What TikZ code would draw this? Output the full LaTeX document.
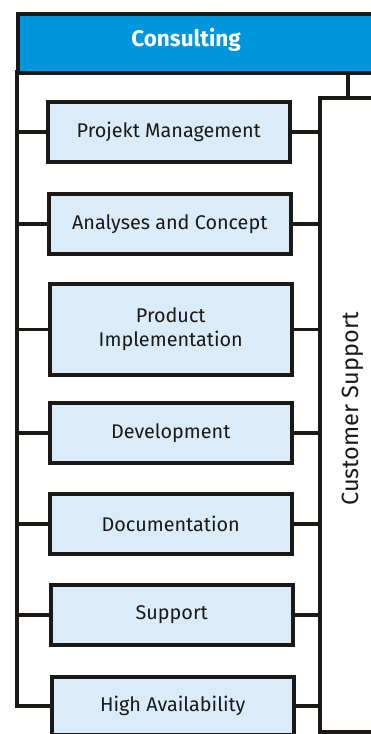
\documentclass[tikz,border=0pt]{standalone}
\usepackage{fontspec}
\setmainfont{Fira Sans}
\definecolor{hdrblue}{RGB}{0,150,219}
\definecolor{boxblue}{RGB}{218,236,250}
\definecolor{ink}{RGB}{28,24,22}
\begin{document}
\begin{tikzpicture}[x=1pt,y=-1pt,
  svcbox/.style={draw=ink,fill=boxblue,line width=3.5pt,minimum width=242pt,minimum height=60pt,
    align=center,font=\fontsize{19.8}{24}\selectfont,text=ink,anchor=north west,inner sep=0pt},
  link/.style={draw=ink,line width=3.5pt}]
\useasboundingbox (0,0) rectangle (371,734);
% header
\node[draw=ink,fill=hdrblue,line width=3.5pt,anchor=north west,minimum width=362pt,minimum height=59pt,inner sep=0pt] (hdr) at (16,12) {};
\node[text=white,font=\fontsize{22.5}{26}\selectfont\bfseries] (ttl) at (186,40) {Consulting};
% boxes
\node[svcbox] (pm) at (46,100) {Projekt Management};
\node[svcbox] (ac) at (47,192) {Analyses and Concept};
\node[svcbox,minimum height=91pt] (pi) at (48,282) {Product\\Implementation};
\node[svcbox] (dev) at (48,401) {Development};
\node[svcbox] (doc) at (48,492) {Documentation};
\node[svcbox] (sup) at (49,583) {Support};
\node[svcbox,minimum height=58pt] (ha) at (50,675) {High Availability};
% left spine
\coordinate (lt) at (17,70);
\draw[link] (lt) -- (ha.west -| lt) -- (ha.west);
\foreach \n in {pm,ac,pi,dev,doc,sup}{
  \draw[link] (\n.west) -- (\n.west -| lt);
}
% customer support frame
\coordinate (rt) at (320,98);
\coordinate (rb) at (320,732);
\coordinate (rtr) at (374,98);
\coordinate (rbr) at (374,732);
\coordinate (hk) at (348,98);
\draw[link] (rtr) -- (rt) -- (rb) -- (rbr);
\draw[link] (hdr.south -| hk) -- (hk);
\foreach \n in {pm,ac,pi,dev,doc,sup,ha}{
  \draw[link] (\n.east) -- (\n.east -| rt);
}
\node[rotate=90,font=\fontsize{23.5}{26}\selectfont,text=ink] (cs) at (353,409) {Customer Support};
\end{tikzpicture}
\end{document}
